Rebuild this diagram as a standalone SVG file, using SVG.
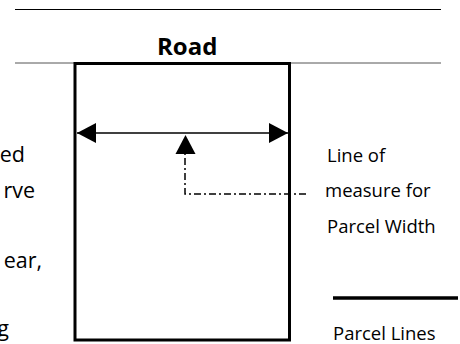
<svg xmlns="http://www.w3.org/2000/svg" width="460" height="344" viewBox="0 0 460 344">
  <style>
    .txt { font-family: "Open Sans", "Liberation Sans", sans-serif; font-size: 18.5px; fill: #000; }
    .body { font-family: "Open Sans", "Liberation Sans", sans-serif; font-size: 21.5px; fill: #000; }
    .road { font-family: "Open Sans", "Liberation Sans", sans-serif; font-size: 24px; font-weight: bold; fill: #000; }
    .parcel { fill: none; stroke: #000; stroke-width: 3; }
    .conn { fill: none; stroke: #000; stroke-width: 1.5; }
    .dashdot { fill: none; stroke: #000; stroke-width: 1.5; stroke-dasharray: 7 3 2 3; }
  </style>
  <defs>
    <marker id="ah" viewBox="0 0 19 20" markerUnits="userSpaceOnUse" markerWidth="19" markerHeight="20" refX="19" refY="10" orient="auto-start-reverse">
      <path d="M0,0 L19,10 L0,20 z" fill="#000"/>
    </marker>
  </defs>
  <rect width="460" height="344" fill="#fff"/>

  <g id="road-edges">
    <line x1="15" y1="9.5" x2="441" y2="9.5" stroke="#000" stroke-width="1"/>
    <line x1="15" y1="63" x2="441" y2="63" stroke="#555" stroke-width="1"/>
  </g>

  <g id="road-label">
    <text class="road" x="157" y="55">Road</text>
  </g>

  <g id="parcel">
    <rect class="parcel" x="75" y="63.5" width="214.5" height="276.5"/>
  </g>

  <g id="side-text">
    <text class="body" x="25" y="162" text-anchor="end">ed</text>
    <text class="body" x="35" y="198" text-anchor="end">rve</text>
    <text class="body" x="42" y="268" text-anchor="end">ear,</text>
    <text class="body" x="9" y="336" text-anchor="end">g</text>
  </g>

  <g id="measure-label">
    <text class="txt" x="327" y="162">Line of</text>
    <text class="txt" x="325" y="197">measure for</text>
    <text class="txt" x="327" y="233">Parcel Width</text>
  </g>

  <g id="legend">
    <line x1="333" y1="298" x2="458" y2="298" stroke="#000" stroke-width="3.5"/>
    <text class="txt" x="333" y="340">Parcel Lines</text>
  </g>

  <g id="connectors">
    <line class="conn" x1="77" y1="133" x2="288" y2="133" marker-start="url(#ah)" marker-end="url(#ah)"/>
    <path class="dashdot" d="M306,194 H185 V140" />
    <path d="M185.5,135 L195.5,154 L175.5,154 z" fill="#000"/>
  </g>
</svg>
